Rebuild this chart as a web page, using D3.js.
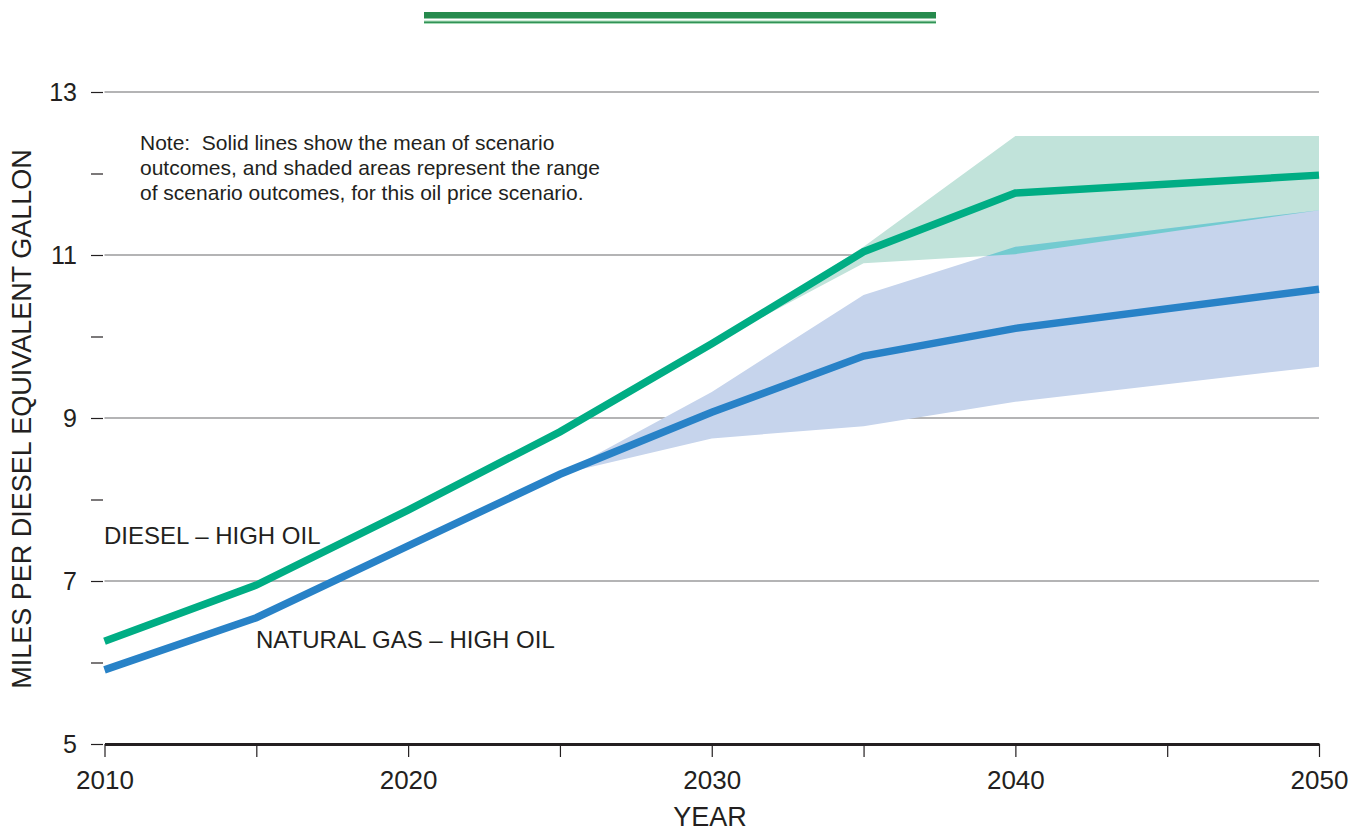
<!DOCTYPE html>
<html>
<head>
<meta charset="utf-8">
<script src="https://cdn.jsdelivr.net/npm/d3@7"></script>
<style>
  html, body { margin: 0; padding: 0; background: #fff; }
  svg { display: block; font-family: "Liberation Sans", Arial, Helvetica, sans-serif; }
</style>
</head>
<body>
<svg id="chart" width="1366" height="831"></svg>
<script>
// Mean outcomes (miles per diesel-equivalent gallon)
const years = [2010, 2015, 2020, 2025, 2030, 2035, 2040, 2050];
const dieselMean = [6.26, 6.95, 7.87, 8.83, 9.91, 11.04, 11.76, 11.98];
const gasMean    = [5.91, 6.55, 7.43, 8.31, 9.07, 9.76, 10.10, 10.58];

// Range of scenario outcomes
const dieselRangeYears = [2030, 2035, 2040, 2050];
const dieselLow  = [9.91, 10.90, 11.01, 11.55];
const dieselHigh = [9.91, 11.10, 12.46, 12.46];

const gasRangeYears = [2025, 2030, 2035, 2040, 2050];
const gasLow  = [8.31, 8.75, 8.90, 9.20, 9.63];
const gasHigh = [8.31, 9.32, 10.51, 11.10, 11.55];

// Axis ticks
const yTicks = [5, 6, 7, 8, 9, 10, 11, 12, 13];
const yLabels = [5, 7, 9, 11, 13];
const gridValues = [7, 9, 11, 13];
const xTicks = [2010, 2015, 2020, 2025, 2030, 2035, 2040, 2045, 2050];
const xLabels = [2010, 2020, 2030, 2040, 2050];

const svg = d3.select("#chart");

const x = d3.scaleLinear().domain([2010, 2050]).range([104.5, 1319]);
const y = d3.scaleLinear().domain([5, 13]).range([744, 92]);

// Header rule
svg.append("rect").attr("x", 424).attr("y", 12).attr("width", 512).attr("height", 6.5)
  .attr("fill", "#268a4d");
svg.append("rect").attr("x", 424).attr("y", 20.5).attr("width", 512).attr("height", 3.5)
  .attr("fill", "#a6dbb6");
svg.append("rect").attr("x", 424).attr("y", 21.6).attr("width", 512).attr("height", 1.3)
  .attr("fill", "#268a4d");

// Gridlines
svg.append("g").selectAll("line").data(gridValues).join("line")
  .attr("x1", x(2010)).attr("x2", x(2050))
  .attr("y1", d => y(d)).attr("y2", d => y(d))
  .attr("stroke", "#6a6a6d").attr("stroke-width", 1.2);

// Range bands
const dieselBand = dieselRangeYears.map((yr, i) => ({ yr, lo: dieselLow[i], hi: dieselHigh[i] }));
const gasBand = gasRangeYears.map((yr, i) => ({ yr, lo: gasLow[i], hi: gasHigh[i] }));

const band = d3.area()
  .x(d => x(d.yr))
  .y0(d => y(d.lo))
  .y1(d => y(d.hi));

svg.append("defs").append("clipPath").attr("id", "dieselRangeClip")
  .append("path").attr("d", band(dieselBand));

svg.append("path").attr("d", band(dieselBand)).attr("fill", "#c1e3da");
svg.append("path").attr("d", band(gasBand)).attr("fill", "#c6d4ec");
// Where the two ranges overlap
svg.append("path").attr("d", band(gasBand)).attr("fill", "#73cbd0")
  .attr("clip-path", "url(#dieselRangeClip)");

// Mean lines
const line = d3.line().x((d, i) => x(years[i])).y(d => y(d));

svg.append("path").attr("d", line(dieselMean))
  .attr("fill", "none").attr("stroke", "#00ad84").attr("stroke-width", 7.5)
  .attr("stroke-linejoin", "miter");
svg.append("path").attr("d", line(gasMean))
  .attr("fill", "none").attr("stroke", "#2882c7").attr("stroke-width", 7.5)
  .attr("stroke-linejoin", "miter");

// Y axis
const yAxis = d3.axisLeft(y)
  .tickValues(yTicks)
  .tickSize(12)
  .tickPadding(14)
  .tickFormat(d => yLabels.includes(d) ? d : "");
const gy = svg.append("g").attr("transform", "translate(103,0)").call(yAxis);
gy.select(".domain").remove();
gy.selectAll(".tick line").attr("stroke", "#231f20").attr("stroke-width", 1.2);
gy.selectAll(".tick text").attr("fill", "#231f20").style("font-size", "25px")
  .style("font-family", "'Liberation Sans', Arial, sans-serif");

// X axis
const xAxis = d3.axisBottom(x)
  .tickValues(xTicks)
  .tickSize(13)
  .tickSizeOuter(0)
  .tickPadding(14)
  .tickFormat(d => xLabels.includes(d) ? d : "");
const gx = svg.append("g").attr("transform", "translate(0,744)").call(xAxis);
gx.select(".domain").attr("stroke", "#231f20").attr("stroke-width", 3);
gx.selectAll(".tick line").attr("stroke", "#231f20").attr("stroke-width", 1.2);
gx.selectAll(".tick text").attr("fill", "#231f20").style("font-size", "26px")
  .style("font-family", "'Liberation Sans', Arial, sans-serif");

// Axis titles
svg.append("text")
  .attr("transform", "translate(31,419) rotate(-90)")
  .attr("text-anchor", "middle")
  .attr("fill", "#231f20")
  .style("font-size", "27px")
  .text("MILES PER DIESEL EQUIVALENT GALLON");

svg.append("text")
  .attr("x", 710).attr("y", 826)
  .attr("text-anchor", "middle")
  .attr("fill", "#231f20")
  .style("font-size", "27px")
  .text("YEAR");

// Note
const noteLines = [
  "Note:  Solid lines show the mean of scenario",
  "outcomes, and shaded areas represent the range",
  "of scenario outcomes, for this oil price scenario."
];
svg.append("g").selectAll("text").data(noteLines).join("text")
  .attr("x", 140).attr("y", (d, i) => 150 + i * 25)
  .attr("fill", "#231f20")
  .style("font-size", "21px")
  .style("white-space", "pre")
  .attr("xml:space", "preserve")
  .text(d => d);

// Series labels
svg.append("text").attr("x", 104).attr("y", 544)
  .attr("fill", "#231f20").style("font-size", "24px")
  .text("DIESEL – HIGH OIL");
svg.append("text").attr("x", 256).attr("y", 648)
  .attr("fill", "#231f20").style("font-size", "24px")
  .text("NATURAL GAS – HIGH OIL");
</script>
</body>
</html>
